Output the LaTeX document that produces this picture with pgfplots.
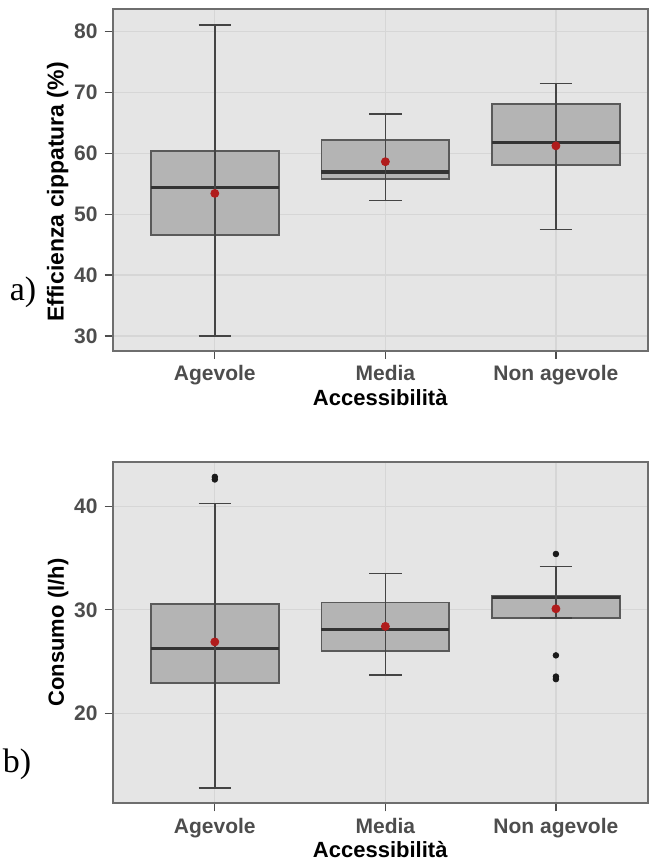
\documentclass[border=0pt]{standalone}
\usepackage{fontspec}
\setmainfont{Liberation Sans}
\newfontfamily\seriffont{Liberation Serif}
\usepackage{pgfplots}
\pgfplotsset{compat=1.18}

\definecolor{panelbg}{HTML}{E5E5E5}
\definecolor{gridcol}{HTML}{D6D6D6}
\definecolor{framecol}{HTML}{6E6E6E}
\definecolor{tickcol}{HTML}{4D4D4D}
\definecolor{boxfill}{HTML}{B4B4B4}
\definecolor{boxedge}{HTML}{5A5A5A}
\definecolor{medcol}{HTML}{333333}
\definecolor{whiskcol}{HTML}{444444}
\definecolor{meancol}{HTML}{B01C1C}
\definecolor{outcol}{HTML}{1A1A1A}

\pgfplotsset{ggbox/.style={
  scale only axis, width=267.75pt, height=170.7pt,
  xmin=-0.6, xmax=2.54, xtick={0,1,2},
  xticklabels={Agevole,Media,Non agevole},
  axis background/.style={fill=panelbg},
  axis line style={draw=framecol, line width=1pt},
  grid=major, major grid style={draw=gridcol, line width=0.6pt},
  tick align=outside, major tick length=4pt,
  tick style={draw=tickcol, line width=0.6pt},
  xtick pos=left, ytick pos=left,
  ticklabel style={font=\bfseries\fontsize{10.5}{12}\selectfont, text=tickcol},
  label style={font=\bfseries\fontsize{11}{13}\selectfont, text=black},
  xlabel={Accessibilità},
  xlabel style={yshift=5pt},
  ylabel style={yshift=-4pt},
  /pgf/number format/assume math mode=true,
  boxst/.style={fill=boxfill, draw=boxedge, line width=0.9pt},
  medst/.style={draw=medcol, line width=1.6pt},
  whst/.style={draw=whiskcol, line width=0.75pt},
}}

\begin{document}
\begin{tikzpicture}
\path[use as bounding box] (0,0) rectangle (326.5pt,430pt);

% ---------- panel a ----------
\begin{axis}[ggbox, at={(56.25pt,254.65pt)}, anchor=south west,
  ymin=27.6, ymax=83.6, ytick={30,40,50,60,70,80},
  ylabel={Efficienza cippatura (\%)},
  ylabel style={xshift=-6pt, font=\bfseries\fontsize{11.5}{13}\selectfont}]
% boxes (lower quartile, upper quartile)
\addplot[boxst] coordinates {(-0.375,46.6) (0.375,46.6) (0.375,60.4) (-0.375,60.4)} -- cycle;
\addplot[boxst] coordinates {(0.625,55.7) (1.375,55.7) (1.375,62.2) (0.625,62.2)} -- cycle;
\addplot[boxst] coordinates {(1.625,58.0) (2.375,58.0) (2.375,68.0) (1.625,68.0)} -- cycle;
% medians
\addplot[medst] coordinates {(-0.375,54.4) (0.375,54.4)};
\addplot[medst] coordinates {(0.625,56.9) (1.375,56.9)};
\addplot[medst] coordinates {(1.625,61.8) (2.375,61.8)};
% whiskers
\addplot[whst] coordinates {(0,30.0) (0,81.0)};
\addplot[whst] coordinates {(1,52.2) (1,66.4)};
\addplot[whst] coordinates {(2,47.5) (2,71.4)};
% caps
\addplot[whst] coordinates {(-0.095,30.0) (0.095,30.0)};
\addplot[whst] coordinates {(-0.095,81.0) (0.095,81.0)};
\addplot[whst] coordinates {(0.905,52.2) (1.095,52.2)};
\addplot[whst] coordinates {(0.905,66.4) (1.095,66.4)};
\addplot[whst] coordinates {(1.905,47.5) (2.095,47.5)};
\addplot[whst] coordinates {(1.905,71.4) (2.095,71.4)};
% means
\addplot[only marks, mark=*, mark size=2pt, color=meancol]
  coordinates {(0,53.4) (1,58.6) (2,61.2)};
\end{axis}

% ---------- panel b ----------
\begin{axis}[ggbox, at={(56.25pt,28.35pt)}, anchor=south west,
  ymin=11.3, ymax=44.3, ytick={20,30,40},
  ylabel={Consumo (l/h)}]
\addplot[boxst] coordinates {(-0.375,22.9) (0.375,22.9) (0.375,30.6) (-0.375,30.6)} -- cycle;
\addplot[boxst] coordinates {(0.625,26.0) (1.375,26.0) (1.375,30.7) (0.625,30.7)} -- cycle;
\addplot[boxst] coordinates {(1.625,29.2) (2.375,29.2) (2.375,31.3) (1.625,31.3)} -- cycle;
\addplot[medst] coordinates {(-0.375,26.3) (0.375,26.3)};
\addplot[medst] coordinates {(0.625,28.1) (1.375,28.1)};
\addplot[medst] coordinates {(1.625,31.2) (2.375,31.2)};
\addplot[whst] coordinates {(0,12.8) (0,40.3)};
\addplot[whst] coordinates {(1,23.7) (1,33.5)};
\addplot[whst] coordinates {(2,29.2) (2,34.2)};
\addplot[whst] coordinates {(-0.095,12.8) (0.095,12.8)};
\addplot[whst] coordinates {(-0.095,40.3) (0.095,40.3)};
\addplot[whst] coordinates {(0.905,23.7) (1.095,23.7)};
\addplot[whst] coordinates {(0.905,33.5) (1.095,33.5)};
\addplot[whst] coordinates {(1.905,29.2) (2.095,29.2)};
\addplot[whst] coordinates {(1.905,34.2) (2.095,34.2)};
% outliers
\addplot[only marks, mark=*, mark size=1.4pt, color=outcol]
  coordinates {(0,42.6) (0,42.85) (2,35.4) (2,25.6) (2,23.55) (2,23.3)};
% means
\addplot[only marks, mark=*, mark size=2pt, color=meancol]
  coordinates {(0,26.9) (1,28.4) (2,30.1)};
\end{axis}

\node[font=\seriffont\fontsize{17}{17}\selectfont] at (11.5pt,284pt) {a)};
\node[font=\seriffont\fontsize{17}{17}\selectfont] at (8.5pt,48pt) {b)};
\end{tikzpicture}
\end{document}
